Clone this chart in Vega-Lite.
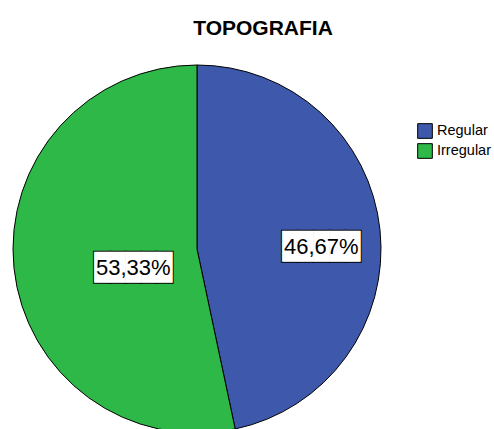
{
  "$schema": "https://vega.github.io/schema/vega-lite/v6.json",
  "autosize": {"type": "none"},
  "width": 368,
  "height": 368,
  "padding": {"left": 13, "top": 65, "right": 113, "bottom": 0},
  "background": "white",
  "title": {
    "text": "TOPOGRAFIA",
    "font": "Liberation Sans",
    "fontSize": 21,
    "fontWeight": "bold",
    "color": "black",
    "anchor": "middle",
    "frame": "group",
    "dx": 66,
    "dy": 22,
    "offset": 29,
    "baseline": "alphabetic"
  },
  "data": {
    "values": [
      {"category": "Regular", "pct": 46.67, "label": "46,67%"},
      {"category": "Irregular", "pct": 53.33, "label": "53,33%"}
    ]
  },
  "encoding": {
    "theta": {"field": "pct", "type": "quantitative", "stack": true},
    "order": {"field": "pct", "type": "quantitative", "sort": "ascending"}
  },
  "layer": [
    {
      "mark": {"type": "arc", "stroke": "black", "strokeWidth": 1},
      "encoding": {
        "color": {
          "field": "category",
          "type": "nominal",
          "sort": ["Regular", "Irregular"],
          "scale": {"domain": ["Regular", "Irregular"], "range": ["#3E58AC", "#2EB848"]},
          "legend": {
            "title": null,
            "orient": "none",
            "legendX": 404,
            "legendY": 58,
            "symbolType": "square",
            "symbolSize": 215,
            "symbolStrokeColor": "black",
            "symbolStrokeWidth": 1,
            "symbolOpacity": 1,
            "labelFont": "Liberation Sans",
            "labelFontSize": 14.5,
            "labelColor": "black",
            "labelOffset": 4,
            "rowPadding": 0
          }
        }
      }
    },
    {
      "mark": {"type": "text", "text": "█████", "font": "DejaVu Sans Mono", "fontSize": 26, "radius": 125, "dy": 11, "fill": "white", "stroke": "black", "strokeWidth": 2},
      "encoding": {"opacity": {"condition": {"test": "datum.category === 'Regular'", "value": 1}, "value": 0}}
    },
    {
      "mark": {"type": "text", "text": "█████", "font": "DejaVu Sans Mono", "fontSize": 26, "radius": 125, "dy": 11, "fill": "white"},
      "encoding": {"opacity": {"condition": {"test": "datum.category === 'Regular'", "value": 1}, "value": 0}}
    },
    {
      "mark": {"type": "text", "font": "Liberation Sans", "fontSize": 22, "radius": 125, "dy": 11, "fill": "black"},
      "encoding": {
        "text": {"field": "label"},
        "opacity": {"condition": {"test": "datum.category === 'Regular'", "value": 1}, "value": 0}
      }
    },
    {
      "mark": {"type": "text", "text": "█████", "font": "DejaVu Sans Mono", "fontSize": 26, "radius": 64, "dy": 12, "fill": "white", "stroke": "black", "strokeWidth": 2},
      "encoding": {"opacity": {"condition": {"test": "datum.category === 'Irregular'", "value": 1}, "value": 0}}
    },
    {
      "mark": {"type": "text", "text": "█████", "font": "DejaVu Sans Mono", "fontSize": 26, "radius": 64, "dy": 12, "fill": "white"},
      "encoding": {"opacity": {"condition": {"test": "datum.category === 'Irregular'", "value": 1}, "value": 0}}
    },
    {
      "mark": {"type": "text", "font": "Liberation Sans", "fontSize": 22, "radius": 64, "dy": 12, "fill": "black"},
      "encoding": {
        "text": {"field": "label"},
        "opacity": {"condition": {"test": "datum.category === 'Irregular'", "value": 1}, "value": 0}
      }
    }
  ]
}
